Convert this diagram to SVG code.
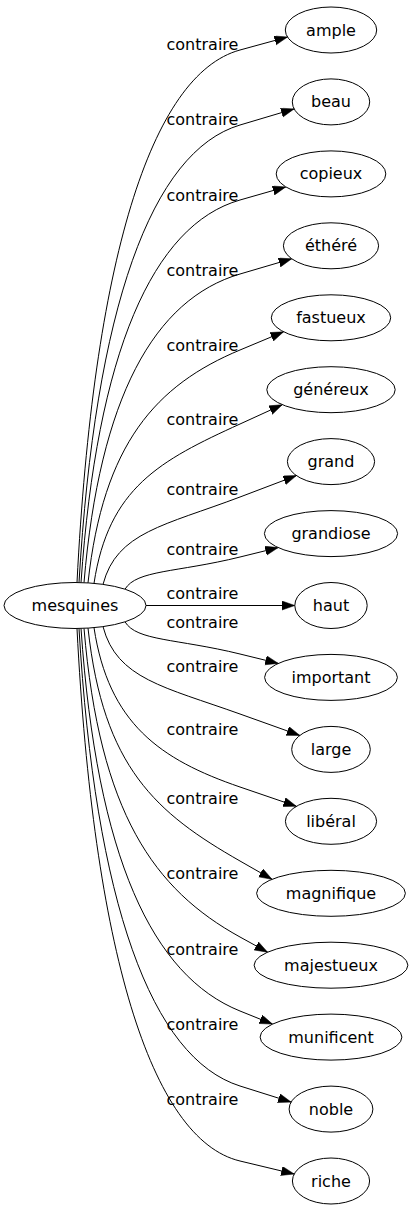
<svg xmlns="http://www.w3.org/2000/svg" width="410" height="1211" viewBox="0 0 410 1211">
<style>
.n ellipse{fill:#fff;stroke:#000;stroke-width:1}
text{font-family:"DejaVu Sans",sans-serif;font-size:16px;fill:#000}
.n text{text-anchor:middle}
.e path{fill:none;stroke:#000;stroke-width:1;marker-end:url(#ah)}
</style>
<defs>
<marker id="ah" markerUnits="userSpaceOnUse" markerWidth="14" markerHeight="10" refX="13" refY="4.6" orient="auto">
<path d="M0,0 L13,4.6 L0,9.2 z" fill="#000" stroke="#000" stroke-width="0.5"/>
</marker>
</defs>
<g id="edges" class="e">
<path d="M77,582.5 C93.3,263 150.4,74.5 240,50 L287.5,37"/>
<path d="M79,582.5 C95.1,308 151.5,151.3 240,125 L294.1,108.9"/>
<path d="M81,582.6 C96.9,353 152.6,225 240,200 L285.8,186.9"/>
<path d="M84,582.7 C99.6,397.5 154.2,299.2 240,274 L291.7,258.8"/>
<path d="M88,582.9 C103.2,443.2 156.4,384.9 240,350 L283.6,331.8"/>
<path d="M94,583.3 C108.6,487.7 159.7,460.6 240,424 L282.3,404.7"/>
<path d="M103,584.4 C116.7,532 164.7,525.5 240,497 L296.4,475.6"/>
<path d="M125,589.2 C136.5,569.9 176.75,572.6 240,557 L278.2,547.6"/>
<path d="M146,605.5 L294.8,605.5"/>
<path d="M125,621.8 C136.5,641.1 176.75,638.5 240,654 L278.3,663.4"/>
<path d="M103,626.6 C116.7,679 164.7,687 240,714 L299.8,735.4"/>
<path d="M94,627.7 C108.6,723.3 159.7,759.5 240,787 L296.4,806.3"/>
<path d="M88,628.1 C103.2,767.8 156.4,813.2 240,861 L272,879.3"/>
<path d="M84,628.3 C99.6,813.5 154.2,889.7 240,937 L267.6,952.2"/>
<path d="M81,628.4 C96.9,858 152.6,975.8 240,1011 L272.5,1024.1"/>
<path d="M79,628.5 C95.1,903 151.5,1058.1 240,1086 L291.1,1102.1"/>
<path d="M77,628.5 C93.3,948 150.4,1139.5 240,1161 L294.2,1174"/>
<g id="labels">
<text x="166.5" y="50">contraire</text>
<text x="166.5" y="125">contraire</text>
<text x="166.5" y="201">contraire</text>
<text x="166.5" y="276">contraire</text>
<text x="166.5" y="351">contraire</text>
<text x="166.5" y="425">contraire</text>
<text x="166.5" y="495">contraire</text>
<text x="166.5" y="555">contraire</text>
<text x="166.5" y="599">contraire</text>
<text x="166.5" y="628">contraire</text>
<text x="166.5" y="672">contraire</text>
<text x="166.5" y="735">contraire</text>
<text x="166.5" y="804">contraire</text>
<text x="166.5" y="879">contraire</text>
<text x="166.5" y="955">contraire</text>
<text x="166.5" y="1030">contraire</text>
<text x="166.5" y="1105">contraire</text>
</g>
</g>
<g id="mesquines" class="n"><ellipse cx="75" cy="605.5" rx="71" ry="23"/><text x="75" y="611">mesquines</text></g>
<g id="ample" class="n"><ellipse cx="331" cy="30" rx="45.7" ry="23"/><text x="331" y="35.5">ample</text></g>
<g id="beau" class="n"><ellipse cx="331" cy="101.9" rx="38.7" ry="23"/><text x="331" y="107.4">beau</text></g>
<g id="copieux" class="n"><ellipse cx="331" cy="173.9" rx="54.8" ry="23"/><text x="331" y="179.4">copieux</text></g>
<g id="ethere" class="n"><ellipse cx="331" cy="245.8" rx="47.6" ry="23"/><text x="331" y="251.3">éthéré</text></g>
<g id="fastueux" class="n"><ellipse cx="331" cy="317.8" rx="59.7" ry="23"/><text x="331" y="323.3">fastueux</text></g>
<g id="genereux" class="n"><ellipse cx="331" cy="389.7" rx="64.2" ry="23"/><text x="331" y="395.2">généreux</text></g>
<g id="grand" class="n"><ellipse cx="331" cy="461.6" rx="43.6" ry="23"/><text x="331" y="467.1">grand</text></g>
<g id="grandiose" class="n"><ellipse cx="331" cy="533.6" rx="66.6" ry="23"/><text x="331" y="539.1">grandiose</text></g>
<g id="haut" class="n"><ellipse cx="331" cy="605.5" rx="36.2" ry="23"/><text x="331" y="611">haut</text></g>
<g id="important" class="n"><ellipse cx="331" cy="677.4" rx="66.4" ry="23"/><text x="331" y="682.9">important</text></g>
<g id="large" class="n"><ellipse cx="331" cy="749.4" rx="39.3" ry="23"/><text x="331" y="754.9">large</text></g>
<g id="liberal" class="n"><ellipse cx="331" cy="821.3" rx="45.6" ry="23"/><text x="331" y="826.8">libéral</text></g>
<g id="magnifique" class="n"><ellipse cx="331" cy="893.3" rx="74.4" ry="23"/><text x="331" y="898.8">magnifique</text></g>
<g id="majestueux" class="n"><ellipse cx="331" cy="965.2" rx="76.9" ry="23"/><text x="331" y="970.7">majestueux</text></g>
<g id="munificent" class="n"><ellipse cx="331" cy="1037.1" rx="70.9" ry="23"/><text x="331" y="1042.6">munificent</text></g>
<g id="noble" class="n"><ellipse cx="331" cy="1109.1" rx="41.9" ry="23"/><text x="331" y="1114.6">noble</text></g>
<g id="riche" class="n"><ellipse cx="331" cy="1181" rx="38.6" ry="23"/><text x="331" y="1186.5">riche</text></g>
</svg>
